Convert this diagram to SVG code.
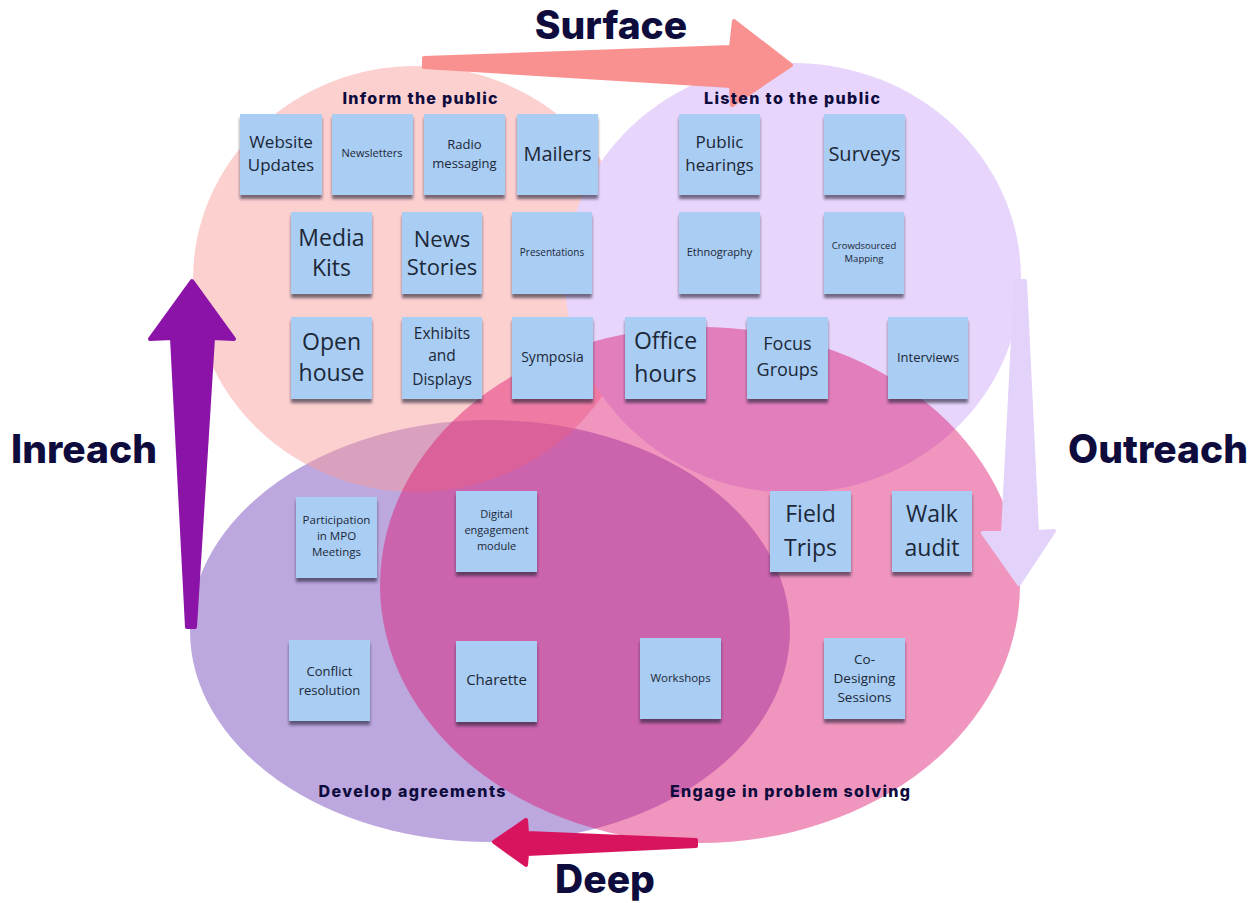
<svg xmlns="http://www.w3.org/2000/svg" width="1260" height="903" viewBox="0 0 1260 903">
<defs>
<filter id="sh" x="-20%" y="-20%" width="140%" height="150%">
<feDropShadow dx="0" dy="4" stdDeviation="1.8" flood-color="#1a2030" flood-opacity="0.6"/>
</filter>
<style>
.note{fill:#a9cdf3;filter:url(#sh)}
.nt{font-family:"Open Sans","Noto Sans",sans-serif;fill:#1c2838;text-anchor:middle}
.big{font-family:Inter,"Liberation Sans",sans-serif;font-weight:800;fill:#0e0b3d;font-size:39px}
.sec{font-family:Inter,"Liberation Sans",sans-serif;font-weight:800;fill:#0e0b3d;font-size:16px;text-anchor:middle}
.arr{stroke-linejoin:round;stroke-width:4}
</style>
</defs>
<rect width="1260" height="903" fill="#ffffff"/>
<g id="regions">
<ellipse id="develop" cx="490" cy="631" rx="300" ry="211" fill="#bca7de"/>
<ellipse id="inform" cx="416" cy="279" rx="223" ry="213" fill="#fb9b9b" fill-opacity="0.47"/>
<ellipse id="listen" cx="793" cy="278" rx="228" ry="215" fill="#e8d5fb"/>
<ellipse id="engage" cx="700" cy="585" rx="320" ry="258" fill="#de146e" fill-opacity="0.45"/>
</g>
<g id="notes">
<g id="n-website"><rect class="note" x="240" y="114" width="82" height="81"/><text class="nt" font-size="17"><tspan x="281" y="148">Website</tspan><tspan x="281" y="171">Updates</tspan></text></g>
<g id="n-newsletters"><rect class="note" x="332" y="114" width="81" height="81"/><text class="nt" font-size="11" x="372" y="157">Newsletters</text></g>
<g id="n-radio"><rect class="note" x="424" y="114" width="81" height="81"/><text class="nt" font-size="13"><tspan x="464.5" y="149">Radio</tspan><tspan x="464.5" y="168">messaging</tspan></text></g>
<g id="n-mailers"><rect class="note" x="517" y="114" width="81" height="81"/><text class="nt" font-size="20" x="557.5" y="161">Mailers</text></g>
<g id="n-hearings"><rect class="note" x="679" y="114" width="81" height="81"/><text class="nt" font-size="17"><tspan x="719.5" y="148">Public</tspan><tspan x="719.5" y="171">hearings</tspan></text></g>
<g id="n-surveys"><rect class="note" x="824" y="114" width="81" height="81"/><text class="nt" font-size="20" x="864.5" y="161">Surveys</text></g>
<g id="n-media"><rect class="note" x="291" y="212" width="81" height="82"/><text class="nt" font-size="23"><tspan x="331.5" y="246">Media</tspan><tspan x="331.5" y="276">Kits</tspan></text></g>
<g id="n-news"><rect class="note" x="402" y="212" width="80" height="82"/><text class="nt" font-size="22"><tspan x="442" y="247">News</tspan><tspan x="442" y="275">Stories</tspan></text></g>
<g id="n-presentations"><rect class="note" x="512" y="212" width="80" height="82"/><text class="nt" font-size="10" x="552" y="255.5">Presentations</text></g>
<g id="n-ethnography"><rect class="note" x="679" y="212" width="81" height="82"/><text class="nt" font-size="11" x="719.5" y="256">Ethnography</text></g>
<g id="n-crowd"><rect class="note" x="824" y="212" width="80" height="82"/><text class="nt" font-size="9.5"><tspan x="864" y="249">Crowdsourced</tspan><tspan x="864" y="262">Mapping</tspan></text></g>
<g id="n-open"><rect class="note" x="291" y="317" width="81" height="82"/><text class="nt" font-size="23"><tspan x="331.5" y="350">Open</tspan><tspan x="331.5" y="381">house</tspan></text></g>
<g id="n-exhibits"><rect class="note" x="402" y="317" width="80" height="82"/><text class="nt" font-size="15.5"><tspan x="442" y="339">Exhibits</tspan><tspan x="442" y="361">and</tspan><tspan x="442" y="385">Displays</tspan></text></g>
<g id="n-symposia"><rect class="note" x="512" y="317" width="81" height="82"/><text class="nt" font-size="14" x="552.5" y="362">Symposia</text></g>
<g id="n-office"><rect class="note" x="625" y="317" width="81" height="82"/><text class="nt" font-size="23"><tspan x="665.5" y="349">Office</tspan><tspan x="665.5" y="382">hours</tspan></text></g>
<g id="n-focus"><rect class="note" x="747" y="317" width="81" height="82"/><text class="nt" font-size="18"><tspan x="787.5" y="350">Focus</tspan><tspan x="787.5" y="376">Groups</tspan></text></g>
<g id="n-interviews"><rect class="note" x="888" y="317" width="80" height="82"/><text class="nt" font-size="13" x="928" y="361.5">Interviews</text></g>
<g id="n-participation"><rect class="note" x="296" y="497" width="81" height="81"/><text class="nt" font-size="11.5"><tspan x="336.5" y="524">Participation</tspan><tspan x="336.5" y="540">in MPO</tspan><tspan x="336.5" y="556">Meetings</tspan></text></g>
<g id="n-digital"><rect class="note" x="456" y="491" width="81" height="81"/><text class="nt" font-size="11"><tspan x="496.5" y="518">Digital</tspan><tspan x="496.5" y="534">engagement</tspan><tspan x="496.5" y="550">module</tspan></text></g>
<g id="n-field"><rect class="note" x="770" y="491" width="81" height="81"/><text class="nt" font-size="23"><tspan x="810.5" y="522">Field</tspan><tspan x="810.5" y="556">Trips</tspan></text></g>
<g id="n-walk"><rect class="note" x="892" y="491" width="80" height="81"/><text class="nt" font-size="23"><tspan x="932" y="522">Walk</tspan><tspan x="932" y="556">audit</tspan></text></g>
<g id="n-conflict"><rect class="note" x="289" y="640" width="81" height="81"/><text class="nt" font-size="13"><tspan x="329.5" y="676">Conflict</tspan><tspan x="329.5" y="695">resolution</tspan></text></g>
<g id="n-charette"><rect class="note" x="456" y="641" width="81" height="81"/><text class="nt" font-size="15" x="496.5" y="685">Charette</text></g>
<g id="n-workshops"><rect class="note" x="640" y="638" width="81" height="81"/><text class="nt" font-size="11.5" x="680.5" y="682">Workshops</text></g>
<g id="n-codesign"><rect class="note" x="824" y="638" width="81" height="81"/><text class="nt" font-size="13.5"><tspan x="864.5" y="664">Co-</tspan><tspan x="864.5" y="683">Designing</tspan><tspan x="864.5" y="702">Sessions</tspan></text></g>
</g>
<g id="connectors">
<polygon id="surface-arrow" class="arr" fill="#f8918f" stroke="#f8918f" points="424,58 731,47 734,21 791,65 732,105 731,86 424,67"/>
<polygon id="inreach-arrow" class="arr" fill="#8b13a7" stroke="#8b13a7" points="192,281 234,339 213,338 195,627 187,627 172,338 150,339"/>
<polygon id="outreach-arrow" class="arr" fill="#e3d2f9" stroke="#e3d2f9" points="1016,281 1025,281 1037,532 1054,531 1019,584 983,533 1003,533"/>
<polygon id="deep-arrow" class="arr" fill="#d9145f" stroke="#d9145f" points="494,842 526,820 527,833 696,840 696,846 527,854 526,865"/>
</g>
<g id="section-labels">
<text class="sec" x="420" y="104" textLength="155" lengthAdjust="spacing">Inform the public</text>
<text class="sec" x="792" y="104" textLength="176" lengthAdjust="spacing">Listen to the public</text>
<text class="sec" x="412" y="797" textLength="187" lengthAdjust="spacing">Develop agreements</text>
<text class="sec" x="790" y="797" textLength="240" lengthAdjust="spacing">Engage in problem solving</text>
</g>
<g id="axis-labels">
<text class="big" x="611" y="39" text-anchor="middle">Surface</text>
<text class="big" x="84" y="463" text-anchor="middle">Inreach</text>
<text class="big" x="1158" y="463" text-anchor="middle">Outreach</text>
<text class="big" x="605" y="893" text-anchor="middle" font-size="38">Deep</text>
</g>
</svg>
